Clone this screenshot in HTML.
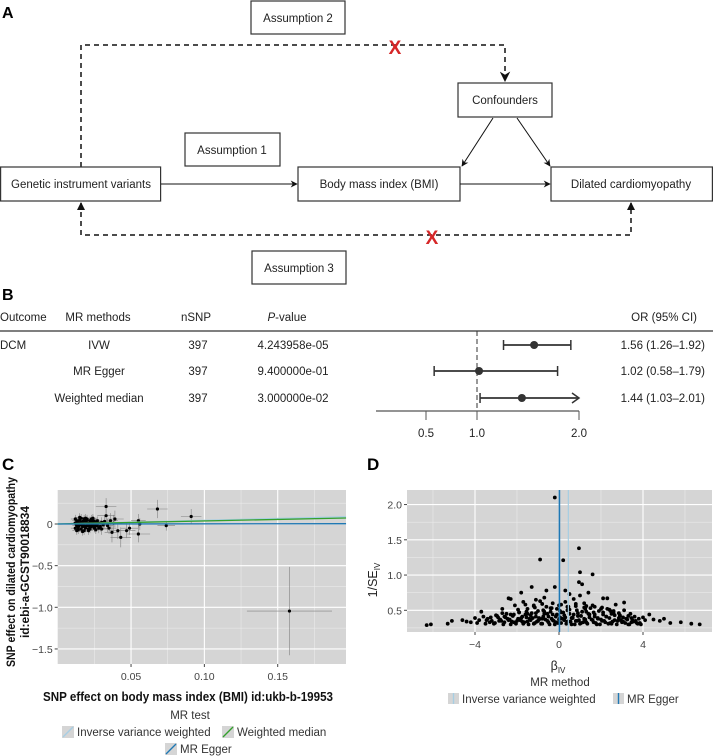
<!DOCTYPE html>
<html><head><meta charset="utf-8"><style>
html,body{margin:0;padding:0;background:#fff;}
svg{display:block;font-family:"Liberation Sans",sans-serif;}
.bx{fill:#fff;stroke:#333;stroke-width:1.2;}
.t{font-size:11.5px;fill:#222;}
.tk{font-size:10.5px;fill:#444;}
</style></head><body>
<svg id="fig" width="713" height="756" viewBox="0 0 713 756">
<defs>
<marker id="ah" viewBox="0 0 10 10" refX="9" refY="5" markerWidth="7" markerHeight="7" orient="auto"><path d="M0,0 L10,5 L0,10 L3,5 z" fill="#111"/></marker>
</defs>
<g>
<text x="2" y="18" font-size="16" font-weight="bold">A</text>
<rect class="bx" x="251" y="1" width="94" height="33"/>
<text class="t" x="298" y="22" text-anchor="middle">Assumption 2</text>
<path d="M81,167 V45 H505 V81" fill="none" stroke="#111" stroke-width="1.5" stroke-dasharray="5,4" marker-end="url(#ah)"/>
<text x="395" y="54" font-size="19" font-weight="bold" fill="#d62728" text-anchor="middle">X</text>
<rect class="bx" x="458" y="83" width="94" height="34"/>
<text class="t" x="505" y="104" text-anchor="middle">Confounders</text>
<rect class="bx" x="185" y="133" width="95" height="33"/>
<text class="t" x="232" y="154" text-anchor="middle">Assumption 1</text>
<rect class="bx" x="0.6" y="167" width="160" height="34"/>
<text class="t" x="81" y="188" text-anchor="middle">Genetic instrument variants</text>
<rect class="bx" x="298" y="167" width="162" height="34"/>
<text class="t" x="379" y="188" text-anchor="middle">Body mass index (BMI)</text>
<rect class="bx" x="551" y="167" width="161.4" height="34"/>
<text class="t" x="631" y="188" text-anchor="middle">Dilated cardiomyopathy</text>
<line x1="161" y1="184" x2="297" y2="184" stroke="#111" marker-end="url(#ah)"/>
<line x1="460" y1="184" x2="550" y2="184" stroke="#111" marker-end="url(#ah)"/>
<line x1="493" y1="118" x2="462" y2="166" stroke="#111" marker-end="url(#ah)"/>
<line x1="517" y1="118" x2="550" y2="166" stroke="#111" marker-end="url(#ah)"/>
<path d="M81,203 V235 H631 V203" fill="none" stroke="#111" stroke-width="1.5" stroke-dasharray="5,4"/>
<path d="M77,210 L81,202 L85,210 Z M627,210 L631,202 L635,210 Z" fill="#111"/>
<text x="432" y="244" font-size="19" font-weight="bold" fill="#d62728" text-anchor="middle">X</text>
<rect class="bx" x="252" y="251" width="94" height="33"/>
<text class="t" x="299" y="272" text-anchor="middle">Assumption 3</text>
</g>
<g id="pb">
<text x="2" y="300" font-size="16" font-weight="bold">B</text>
<g class="t" font-size="11.5">
<text x="0" y="321">Outcome</text>
<text x="98" y="321" text-anchor="middle">MR methods</text>
<text x="196" y="321" text-anchor="middle">nSNP</text>
<text x="287" y="321" text-anchor="middle"><tspan font-style="italic">P</tspan>-value</text>
<text x="697" y="321" text-anchor="end">OR (95% CI)</text>
</g>
<line x1="0" y1="331" x2="713" y2="331" stroke="#333" stroke-width="1.2"/>
<line x1="477" y1="331" x2="477" y2="412" stroke="#333" stroke-dasharray="5,3"/>
</g>
<g id="pc">
<text x="2" y="470" font-size="17" font-weight="bold">C</text>
</g>
<g id="pd">
<text x="367" y="470" font-size="17" font-weight="bold">D</text>
</g>
</svg>
<script>
const NS="http://www.w3.org/2000/svg";
function mk(parent,tag,attrs,text){const e=document.createElementNS(NS,tag);for(const k in attrs)e.setAttribute(k,attrs[k]);if(text!==undefined)e.textContent=text;parent.appendChild(e);return e;}

/* ---------- Panel B data ---------- */
const fpOutcome=["DCM","",""];
const fpMethods=["IVW","MR Egger","Weighted median"];
const fpNsnp=[397,397,397];
const fpPval=["4.243958e-05","9.400000e-01","3.000000e-02"];
const fpOR=[1.56,1.02,1.44];
const fpLo=[1.26,0.58,1.03];
const fpHi=[1.92,1.79,2.01];
const fpTicks=[0.5,1.0,2.0];
const fpTickLabels=["0.5","1.0","2.0"];

/* ---------- Panel C data ---------- */
const cX=[0.033,0.033,0.068,0.091,0.074,0.055,0.056,0.055,0.043,0.047,0.041,0.049,0.037,0.039,0.035,0.158,
0.012,0.013,0.014,0.015,0.016,0.017,0.018,0.019,0.020,0.021,0.022,0.023,0.024,0.025,0.026,0.027,0.028,0.029,0.030,0.031,
0.012,0.013,0.014,0.015,0.016,0.017,0.018,0.019,0.020,0.021,0.022,0.023,0.024,0.025,0.026,0.027,0.028,
0.0125,0.0135,0.0145,0.0155,0.0165,0.0175,0.0185,0.0195,0.0205,0.0215,0.0225,0.0235,0.0245,0.0255,0.0265,
0.012,0.014,0.016,0.018,0.020,0.022,0.024,0.026,0.013,0.015,0.017,0.019,0.021,0.023,0.025,0.032,0.034,0.036,0.030,0.038];
const cY=[0.21,0.10,0.18,0.09,-0.02,0.04,0.00,-0.12,-0.16,-0.08,-0.08,-0.05,-0.10,0.06,-0.05,-1.045,
0.01,-0.02,0.03,-0.01,0.02,-0.03,0.00,0.04,-0.02,0.01,-0.04,0.02,-0.01,0.03,0.00,-0.02,0.01,-0.03,0.02,-0.01,
-0.05,0.04,-0.04,0.05,-0.06,0.03,0.06,-0.05,0.05,-0.06,0.04,-0.03,0.05,-0.04,0.02,0.04,-0.05,
0.00,0.02,-0.02,0.01,-0.01,0.03,-0.03,0.02,0.00,-0.02,0.01,-0.01,0.02,-0.03,0.01,
0.06,-0.07,0.07,-0.08,0.06,-0.06,0.07,-0.07,-0.08,0.08,-0.09,0.07,-0.08,0.06,-0.05,0.03,-0.02,0.04,-0.06,0.01];
const cSEx=[0.007,0.006,0.007,0.007,0.006,0.005,0.006,0.008,0.007,0.006,0.006,0.006,0.005,0.006,0.005,0.029,
0.003,0.003,0.003,0.003,0.003,0.003,0.003,0.003,0.003,0.003,0.003,0.003,0.003,0.003,0.003,0.003,0.003,0.003,0.004,0.004,
0.003,0.003,0.003,0.003,0.003,0.003,0.003,0.003,0.003,0.003,0.003,0.003,0.003,0.003,0.003,0.003,0.004,
0.003,0.003,0.003,0.003,0.003,0.003,0.003,0.003,0.003,0.003,0.003,0.003,0.003,0.003,0.003,
0.003,0.003,0.003,0.003,0.003,0.003,0.003,0.003,0.003,0.003,0.003,0.003,0.003,0.003,0.003,0.004,0.004,0.005,0.004,0.006];
const cSEy=[0.10,0.09,0.11,0.09,0.06,0.08,0.07,0.10,0.12,0.09,0.10,0.08,0.12,0.10,0.07,0.53,
0.04,0.04,0.05,0.04,0.05,0.04,0.04,0.05,0.05,0.04,0.05,0.04,0.05,0.05,0.04,0.05,0.05,0.06,0.06,0.06,
0.04,0.04,0.04,0.05,0.05,0.04,0.05,0.05,0.04,0.05,0.05,0.04,0.05,0.05,0.04,0.05,0.06,
0.04,0.04,0.04,0.04,0.04,0.04,0.04,0.04,0.04,0.04,0.04,0.04,0.04,0.04,0.04,
0.05,0.05,0.05,0.05,0.05,0.05,0.05,0.05,0.05,0.05,0.05,0.05,0.05,0.05,0.05,0.07,0.08,0.09,0.07,0.10];
const cLineNames=["Inverse variance weighted","Weighted median","MR Egger"];
const cLineSlopes=[0.445,0.365,0.02];
const cLineIntercepts=[0,0,0];
const cXTicks=[0.05,0.10,0.15];
const cXTickLabels=["0.05","0.10","0.15"];
const cYTicks=[0,-0.5,-1.0,-1.5];
const cYTickLabels=["0","\u22120.5","\u22121.0","\u22121.5"];

/* ---------- Panel D data ---------- */
const dBeta=[-0.2,0.95,-0.9,0.2,1.0,1.6,0.95,1.1,-1.3,-0.2,-0.6,0.3,1.4,-1.8,0.5,1.0,2.1,2.3,-2.3,-2.4,3.1,
-6.3,-6.1,-5.3,-5.1,-4.6,-4.2,-4.0,-3.8,-3.7,-3.6,-3.5,-3.4,-3.2,-3.0,-2.9,-2.8,-2.7,-2.6,-2.5,-2.4,-2.3,-2.2,-2.1,-2.0,-1.9,-1.8,-1.7,-1.7,-1.6,-1.5,-1.5,-1.4,-1.3,-1.2,-1.2,-1.1,-1.0,-1.0,-0.9,-0.8,-0.8,-0.7,-0.6,-0.5,-0.5,-0.4,-0.3,-0.3,-0.2,-0.1,-0.1,0.0,0.1,0.1,0.2,0.3,0.3,0.4,0.5,0.6,0.6,0.7,0.8,0.8,0.9,1.0,1.1,1.2,1.2,1.3,1.4,1.5,1.6,1.7,1.8,1.9,2.0,2.1,2.2,2.3,2.4,2.5,2.6,2.7,2.8,2.9,3.0,3.1,3.2,3.3,3.4,3.5,3.6,3.7,3.8,3.9,4.1,4.3,4.5,4.8,5.0,5.3,5.8,6.3,6.7,
-3.3,-3.1,-2.85,-2.65,-2.45,-2.25,-2.05,-1.85,-1.65,-1.45,-1.25,-1.05,-0.85,-0.65,-0.45,-0.25,-0.05,0.15,0.35,0.55,0.75,0.95,1.15,1.35,1.55,1.75,1.95,2.15,2.35,2.55,2.75,2.95,3.15,3.35,3.55,3.75,
-2.95,-2.55,-2.15,-1.75,-1.35,-0.95,-0.55,-0.15,0.25,0.65,1.05,1.45,1.85,2.25,2.65,3.05,3.45,
-1.95,-1.55,-1.15,-0.75,-0.35,0.05,0.45,0.85,1.25,1.65,2.05,2.45,2.85,
-4.4,-3.9,-0.7,0.7,1.7,2.6,4.0,-1.1,0.4,1.3,
-3.45,-3.25,-3.05,-2.75,-2.6,-2.35,-2.15,-1.95,-1.75,-1.55,-1.35,-1.15,-0.95,-0.75,-0.55,-0.35,-0.15,0.05,0.25,0.45,0.65,0.85,1.05,1.25,1.45,1.65,1.85,2.05,2.25,2.45,2.65,2.85,3.05,3.25,3.45,3.65,3.85,
-2.7,-2.3,-1.9,-1.5,-1.1,-0.7,-0.3,0.1,0.5,0.9,1.3,1.7,2.1,2.5,2.9,3.3,
-1.6,-1.2,-0.8,-0.4,0.0,0.4,0.8,1.2,1.6,2.0,2.4];
const dInvSE=[2.1,1.38,1.22,1.21,1.04,1.01,0.9,0.87,0.83,0.83,0.78,0.78,0.75,0.75,0.73,0.71,0.67,0.67,0.66,0.67,0.61,
0.29,0.30,0.31,0.35,0.36,0.33,0.39,0.36,0.48,0.41,0.31,0.38,0.35,0.43,0.40,0.37,0.52,0.33,0.45,0.36,0.30,0.42,0.57,0.35,0.47,0.39,0.31,0.62,0.44,0.34,0.52,0.38,0.46,0.31,0.57,0.41,0.35,0.49,0.63,0.38,0.31,0.45,0.55,0.33,0.41,0.48,0.36,0.60,0.30,0.44,0.52,0.37,0.58,0.32,0.47,0.40,0.62,0.34,0.51,0.39,0.30,0.44,0.56,0.35,0.42,0.31,0.48,0.38,0.60,0.33,0.45,0.53,0.36,0.41,0.30,0.49,0.37,0.44,0.33,0.52,0.39,0.31,0.46,0.58,0.35,0.42,0.33,0.50,0.38,0.30,0.45,0.36,0.41,0.32,0.38,0.30,0.36,0.44,0.37,0.35,0.38,0.32,0.33,0.31,0.30,
0.33,0.31,0.35,0.30,0.38,0.34,0.31,0.36,0.33,0.30,0.39,0.34,0.31,0.37,0.30,0.35,0.32,0.38,0.31,0.34,0.30,0.36,0.33,0.31,0.37,0.32,0.30,0.35,0.31,0.34,0.30,0.36,0.32,0.30,0.34,0.31,
0.42,0.40,0.44,0.41,0.43,0.39,0.45,0.41,0.43,0.40,0.42,0.44,0.39,0.41,0.43,0.40,0.39,
0.51,0.48,0.54,0.50,0.53,0.49,0.55,0.50,0.52,0.47,0.54,0.49,0.46,
0.34,0.32,0.68,0.66,0.55,0.49,0.40,0.65,0.50,0.56,
0.36,0.40,0.32,0.35,0.41,0.37,0.33,0.38,0.34,0.40,0.36,0.32,0.37,0.41,0.35,0.38,0.33,0.40,0.36,0.34,0.39,0.35,0.32,0.37,0.40,0.33,0.38,0.35,0.41,0.32,0.36,0.39,0.34,0.37,0.33,0.35,0.32,
0.46,0.44,0.47,0.45,0.46,0.48,0.44,0.47,0.45,0.46,0.48,0.44,0.47,0.45,0.43,0.42,
0.58,0.56,0.59,0.53,0.57,0.55,0.59,0.54,0.57,0.52,0.51];
const dLineNames=["Inverse variance weighted","MR Egger"];
const dLineBeta=[0.445,0.02];
const dXTicks=[-4,0,4];
const dXTickLabels=["\u22124","0","4"];
const dYTicks=[0.5,1.0,1.5,2.0];
const dYTickLabels=["0.5","1.0","1.5","2.0"];

const colIVW="#a6cee3", colEgger="#1f78b4", colWM="#33a02c";

/* ---------- Draw Panel B ---------- */
(function(){
const g=document.getElementById('pb');
const fx=v=>477+(v-1)*102;
const rowY=[345,371,398];
const axMax=2.0;
for(let i=0;i<fpMethods.length;i++){
  const y=rowY[i];
  let t;
  t=mk(g,'text',{x:0,y:y+4,class:'t'},fpOutcome[i]);
  
  
  t=mk(g,'text',{x:99,y:y+4,class:'t','text-anchor':'middle'},fpMethods[i]);
  
  
  t=mk(g,'text',{x:198,y:y+4,class:'t','text-anchor':'middle'},String(fpNsnp[i]));
  
  
  t=mk(g,'text',{x:293,y:y+4,class:'t','text-anchor':'middle'},fpPval[i]);
  
  
  t=mk(g,'text',{x:705,y:y+4,class:'t','text-anchor':'end'},fpOR[i].toFixed(2)+" ("+fpLo[i].toFixed(2)+"\u2013"+fpHi[i].toFixed(2)+")");
  
  
  const hiC=Math.min(fpHi[i],axMax);
  const l=mk(g,'line',{x1:fx(fpLo[i]),y1:y,x2:fx(hiC),y2:y,stroke:'#333','stroke-width':1.8});
  
  
  const cap1=mk(g,'line',{x1:fx(fpLo[i]),y1:y-5,x2:fx(fpLo[i]),y2:y+5,stroke:'#333','stroke-width':1.5});
  
  
  if(fpHi[i]>axMax){
    const ar=mk(g,'path',{d:`M${fx(hiC)-7},${y-5} L${fx(hiC)},${y} L${fx(hiC)-7},${y+5}`,fill:'none',stroke:'#333','stroke-width':1.5});
    
    
  } else {
    const cap2=mk(g,'line',{x1:fx(hiC),y1:y-5,x2:fx(hiC),y2:y+5,stroke:'#333','stroke-width':1.5});
    
    
  }
  const c=mk(g,'circle',{cx:fx(fpOR[i]),cy:y,r:4,fill:'#333'});
  
  
}
const ax=mk(g,'line',{x1:376,y1:411,x2:fx(axMax),y2:411,stroke:'#555','stroke-width':1.2});


fpTicks.forEach((v,i)=>{
  const tk=mk(g,'line',{x1:fx(v),y1:411,x2:fx(v),y2:420,stroke:'#555'});
  
  
  const tl=mk(g,'text',{x:fx(v),y:437,class:'t','text-anchor':'middle'},fpTickLabels[i]);
  
  
});
})();

/* ---------- Draw Panel C ---------- */
(function(){
const g=document.getElementById('pc');
const L=57.7,R=346,T=490,B=664;
const sx=v=>L+v*1466.7;
const sy=v=>524-v*83.3;
const bg=mk(g,'rect',{x:L,y:T,width:R-L,height:B-T,fill:'#d5d5d5'});


[0.025,0.075,0.125,0.175].forEach(v=>{const l=mk(g,'line',{x1:sx(v),y1:T,x2:sx(v),y2:B,stroke:'#eee','stroke-width':0.5});});
[0.25,-0.25,-0.75,-1.25].forEach(v=>{const l=mk(g,'line',{x1:L,y1:sy(v),x2:R,y2:sy(v),stroke:'#eee','stroke-width':0.5});});
cXTicks.forEach((v,i)=>{
  const l=mk(g,'line',{x1:sx(v),y1:T,x2:sx(v),y2:B,stroke:'#fff','stroke-width':1.1});
  
  
  const tk=mk(g,'line',{x1:sx(v),y1:B,x2:sx(v),y2:B+3,stroke:'#444'});
  
  
  const t=mk(g,'text',{x:sx(v),y:B+16,class:'tk','text-anchor':'middle'},cXTickLabels[i]);
  
  
});
cYTicks.forEach((v,i)=>{
  const l=mk(g,'line',{x1:L,y1:sy(v),x2:R,y2:sy(v),stroke:'#fff','stroke-width':1.1});
  
  
  const tk=mk(g,'line',{x1:L-3,y1:sy(v),x2:L,y2:sy(v),stroke:'#444'});
  
  
  const t=mk(g,'text',{x:L-5,y:sy(v)+4,class:'tk','text-anchor':'end'},cYTickLabels[i]);
  
  
});
for(let i=0;i<cX.length;i++){
  const h=mk(g,'line',{x1:sx(cX[i]-cSEx[i]),y1:sy(cY[i]),x2:sx(cX[i]+cSEx[i]),y2:sy(cY[i]),stroke:'#808080','stroke-width':0.6});
  
  
  const v=mk(g,'line',{x1:sx(cX[i]),y1:sy(cY[i]-cSEy[i]),x2:sx(cX[i]),y2:sy(cY[i]+cSEy[i]),stroke:'#808080','stroke-width':0.6});
  
  
}
for(let i=0;i<cX.length;i++){
  const p=mk(g,'circle',{cx:sx(cX[i]),cy:sy(cY[i]),r:1.6,fill:'#000'});
  
  
}
const cols=[colIVW,colWM,colEgger];
cLineSlopes.forEach((s,i)=>{
  const l=mk(g,'line',{x1:sx(0),y1:sy(cLineIntercepts[i]),x2:sx(0.1966),y2:sy(cLineIntercepts[i]+s*0.1966),stroke:cols[i],'stroke-width':1.3});
  
  
});
let t=mk(g,'text',{x:43,y:701,'font-size':'12.5','font-weight':'bold',fill:'#111',textLength:'290',lengthAdjust:'spacingAndGlyphs'},"SNP effect on body mass index (BMI) id:ukb-b-19953");


t=mk(g,'text',{x:-95,y:0,'font-size':'12','font-weight':'bold',fill:'#111',textLength:'190',lengthAdjust:'spacingAndGlyphs',transform:'translate(15,572) rotate(-90)'},"SNP effect on dilated cardiomyopathy");


t=mk(g,'text',{x:-66,y:0,'font-size':'12','font-weight':'bold',fill:'#111',textLength:'132',lengthAdjust:'spacingAndGlyphs',transform:'translate(29,572) rotate(-90)'},"id:ebi-a-GCST90018834");


t=mk(g,'text',{x:190,y:719,'font-size':'11.5','text-anchor':'middle',fill:'#333'},"MR test");


const leg=[[62,732,0],[222,732,1],[165,749,2]];
leg.forEach(([x,y,i])=>{
  const k=mk(g,'rect',{x:x,y:y-6,width:12,height:12,fill:'#d5d5d5'});
  
  
  const kl=mk(g,'line',{x1:x+1,y1:y+5,x2:x+11,y2:y-5,stroke:cols[i],'stroke-width':1.3});
  
  
  const lt=mk(g,'text',{x:x+15,y:y+4,'font-size':'11.5',fill:'#333'},cLineNames[i]);
  
  
});
})();

/* ---------- Draw Panel D ---------- */
(function(){
const g=document.getElementById('pd');
const L=407,R=712,T=490,B=632;
const sx=v=>559+v*21;
const sy=v=>610.3-(v-0.5)*70.5;
const bg=mk(g,'rect',{x:L,y:T,width:R-L,height:B-T,fill:'#d5d5d5'});


[-6,-2,2,6].forEach(v=>{const l=mk(g,'line',{x1:sx(v),y1:T,x2:sx(v),y2:B,stroke:'#eee','stroke-width':0.5});});
[0.25,0.75,1.25,1.75].forEach(v=>{const l=mk(g,'line',{x1:L,y1:sy(v),x2:R,y2:sy(v),stroke:'#eee','stroke-width':0.5});});
dXTicks.forEach((v,i)=>{
  const l=mk(g,'line',{x1:sx(v),y1:T,x2:sx(v),y2:B,stroke:'#fff','stroke-width':1.1});
  
  
  const tk=mk(g,'line',{x1:sx(v),y1:B,x2:sx(v),y2:B+3,stroke:'#444'});
  
  
  const t=mk(g,'text',{x:sx(v),y:B+16,class:'tk','text-anchor':'middle'},dXTickLabels[i]);
  
  
});
dYTicks.forEach((v,i)=>{
  const l=mk(g,'line',{x1:L,y1:sy(v),x2:R,y2:sy(v),stroke:'#fff','stroke-width':1.1});
  
  
  const tk=mk(g,'line',{x1:L-3,y1:sy(v),x2:L,y2:sy(v),stroke:'#444'});
  
  
  const t=mk(g,'text',{x:L-5,y:sy(v)+4,class:'tk','text-anchor':'end'},dYTickLabels[i]);
  
  
});
for(let i=0;i<dBeta.length;i++){
  const p=mk(g,'circle',{cx:sx(dBeta[i]),cy:sy(dInvSE[i]),r:1.9,fill:'#000'});
  
  
}
const cols=[colIVW,colEgger];
dLineBeta.forEach((b,i)=>{
  const l=mk(g,'line',{x1:sx(b),y1:T,x2:sx(b),y2:B,stroke:cols[i],'stroke-width':i?1.6:1.2});
  
  
});
let t=mk(g,'text',{x:558,y:670,'font-size':'12.5',fill:'#222','text-anchor':'middle'});


mk(t,'tspan',{},"\u03B2");
mk(t,'tspan',{'font-size':'8',dy:'3'},"IV");
t=mk(g,'text',{x:0,y:0,'font-size':'12.5',fill:'#222','text-anchor':'middle',transform:'translate(377,580) rotate(-90)'});


mk(t,'tspan',{},"1/SE");
mk(t,'tspan',{'font-size':'8',dy:'3'},"IV");
t=mk(g,'text',{x:560,y:686,'font-size':'11.5',fill:'#333','text-anchor':'middle'},"MR method");


[[448,699,0],[613,699,1]].forEach(([x,y,i])=>{
  const k=mk(g,'rect',{x:x,y:y-6,width:11,height:11,fill:'#d5d5d5'});
  
  
  const kl=mk(g,'line',{x1:x+5.5,y1:y-6,x2:x+5.5,y2:y+5,stroke:cols[i],'stroke-width':1.4});
  
  
  const lt=mk(g,'text',{x:x+14,y:y+4,'font-size':'11.5',fill:'#333'},dLineNames[i]);
  
  
});
})();
</script>
</body></html>
